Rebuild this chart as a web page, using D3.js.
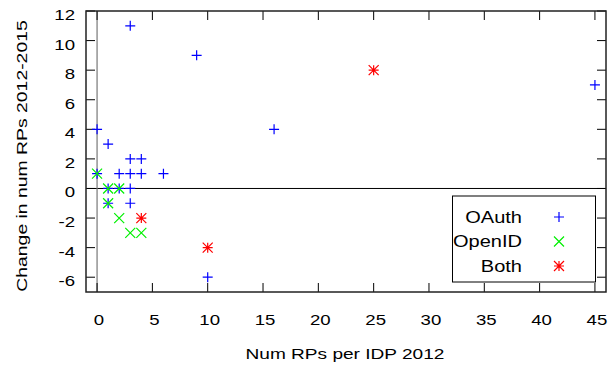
<!DOCTYPE html>
<meta charset="utf-8">
<style>
body { margin: 0; background: #fff; }
text { font-family: "Liberation Sans", Arial, sans-serif; fill: #000; }
.axis text { font-size: 15.5px; }
.axis line { stroke: #000; }
.label { font-size: 15.5px; }
.legend text { font-size: 16px; }
</style>
<body>
<div id="chart"></div>
</body>
<script src="https://d3js.org/d3.v7.min.js"></script>
<script>

// values: [RPs 2012, change 2012-2015]
var oauth = [[3, 11], [9, 9], [45, 7], [0, 4], [16, 4], [1, 3], [3, 2], [4, 2],
             [0, 1], [2, 1], [3, 1], [4, 1], [6, 1], [1, 0], [2, 0], [3, 0],
             [1, -1], [3, -1], [10, -6]];
var openid = [[0, 1], [1, 0], [2, 0], [1, -1], [2, -2], [3, -3], [4, -3]];
var both = [[4, -2], [10, -4], [25, 8]];

var xTicks = [0, 5, 10, 15, 20, 25, 30, 35, 40, 45];
var yTicks = [-6, -4, -2, 0, 2, 4, 6, 8, 10, 12];
var seriesNames = ["OAuth", "OpenID", "Both"];

var width = 616, height = 366;
var plot = {left: 86, right: 606, top: 11, bottom: 292};

var x = d3.scaleLinear().domain([-1, 46]).range([plot.left, plot.right]);
var y = d3.scaleLinear().domain([-7, 12]).range([plot.bottom, plot.top]);

var svg = d3.select("#chart").append("svg")
    .attr("width", width)
    .attr("height", height);

// the reference font runs wider than Liberation Sans, stretch the glyphs a bit
function widen(sel, k) {
  sel.each(function() {
    var w = this.getComputedTextLength();
    this.setAttribute("textLength", w * k);
    this.setAttribute("lengthAdjust", "spacingAndGlyphs");
  });
}

// zero axes
svg.append("line")
    .attr("x1", plot.left).attr("x2", plot.right)
    .attr("y1", y(0)).attr("y2", y(0))
    .attr("stroke", "#000").attr("stroke-width", 1);
svg.append("line")
    .attr("x1", x(0)).attr("x2", x(0))
    .attr("y1", plot.top).attr("y2", plot.bottom)
    .attr("stroke", "#777").attr("stroke-width", 1.2);

// ticks, mirrored inward on every side like gnuplot
var tl = 9;
function xAxisAt(yPos, dir) {
  var g = svg.append("g").attr("class", "axis");
  g.selectAll("line").data(xTicks).enter().append("line")
      .attr("x1", function(d) { return x(d); })
      .attr("x2", function(d) { return x(d); })
      .attr("y1", yPos)
      .attr("y2", yPos + dir * tl);
  return g;
}
function yAxisAt(xPos, dir) {
  var g = svg.append("g").attr("class", "axis");
  g.selectAll("line").data(yTicks).enter().append("line")
      .attr("y1", function(d) { return y(d); })
      .attr("y2", function(d) { return y(d); })
      .attr("x1", xPos)
      .attr("x2", xPos + dir * tl);
  return g;
}
var xb = xAxisAt(plot.bottom, -1);
xAxisAt(plot.top, 1);
var yl = yAxisAt(plot.left, 1);
yAxisAt(plot.right, -1);

xb.selectAll("text").data(xTicks).enter().append("text")
    .attr("x", function(d) { return x(d) + 2; })
    .attr("y", 325)
    .attr("text-anchor", "middle")
    .text(function(d) { return d; })
    .call(widen, 1.2);

yl.selectAll("text").data(yTicks).enter().append("text")
    .attr("x", 75)
    .attr("y", function(d) { return y(d) + 3.5; })
    .attr("dy", "0.35em")
    .attr("text-anchor", "end")
    .text(function(d) { return d; })
    .call(widen, 1.2);

// frame
svg.append("rect")
    .attr("x", plot.left).attr("y", plot.top)
    .attr("width", plot.right - plot.left).attr("height", plot.bottom - plot.top)
    .attr("fill", "none")
    .attr("stroke", "#222")
    .attr("stroke-width", 1.5);

svg.append("text")
    .attr("class", "label")
    .attr("x", 345)
    .attr("y", 359)
    .attr("text-anchor", "middle")
    .text("Num RPs per IDP 2012")
    .call(widen, 1.23);

svg.append("text")
    .attr("class", "label")
    .attr("transform", "translate(27,156) rotate(-90)")
    .attr("text-anchor", "middle")
    .text("Change in num RPs 2012-2015")
    .call(widen, 1.25);

// point symbols
var s = 5;
var plusPath = "M" + (-s) + ",0H" + s + "M0," + (-s) + "V" + s;
var crossPath = "M" + (-s) + "," + (-s) + "L" + s + "," + s + "M" + (-s) + "," + s + "L" + s + "," + (-s);
var symbols = [plusPath, crossPath, plusPath + crossPath];
var colors = ["#0000ff", "#00f000", "#ff0000"];

var legend = svg.append("g").attr("class", "legend");
legend.append("rect")
    .attr("x", 452.5).attr("y", 196)
    .attr("width", 143).attr("height", 86)
    .attr("fill", "#fff")
    .attr("stroke", "#000")
    .attr("stroke-width", 1);

[oauth, openid, both].forEach(function(data, i) {
  svg.append("g").selectAll("path")
      .data(data)
    .enter().append("path")
      .attr("d", symbols[i])
      .attr("transform", function(d) { return "translate(" + x(d[0]) + "," + y(d[1]) + ")"; })
      .attr("fill", "none")
      .attr("stroke", colors[i])
      .attr("stroke-width", 1.2);

  var ly = 217 + i * 24.5;
  legend.append("text")
      .attr("x", 522)
      .attr("y", ly)
      .attr("dy", "0.35em")
      .attr("text-anchor", "end")
      .text(seriesNames[i])
      .call(widen, 1.25);
  legend.append("path")
      .attr("d", symbols[i])
      .attr("transform", "translate(559," + ly + ")")
      .attr("fill", "none")
      .attr("stroke", colors[i])
      .attr("stroke-width", 1.2);
});

</script>
